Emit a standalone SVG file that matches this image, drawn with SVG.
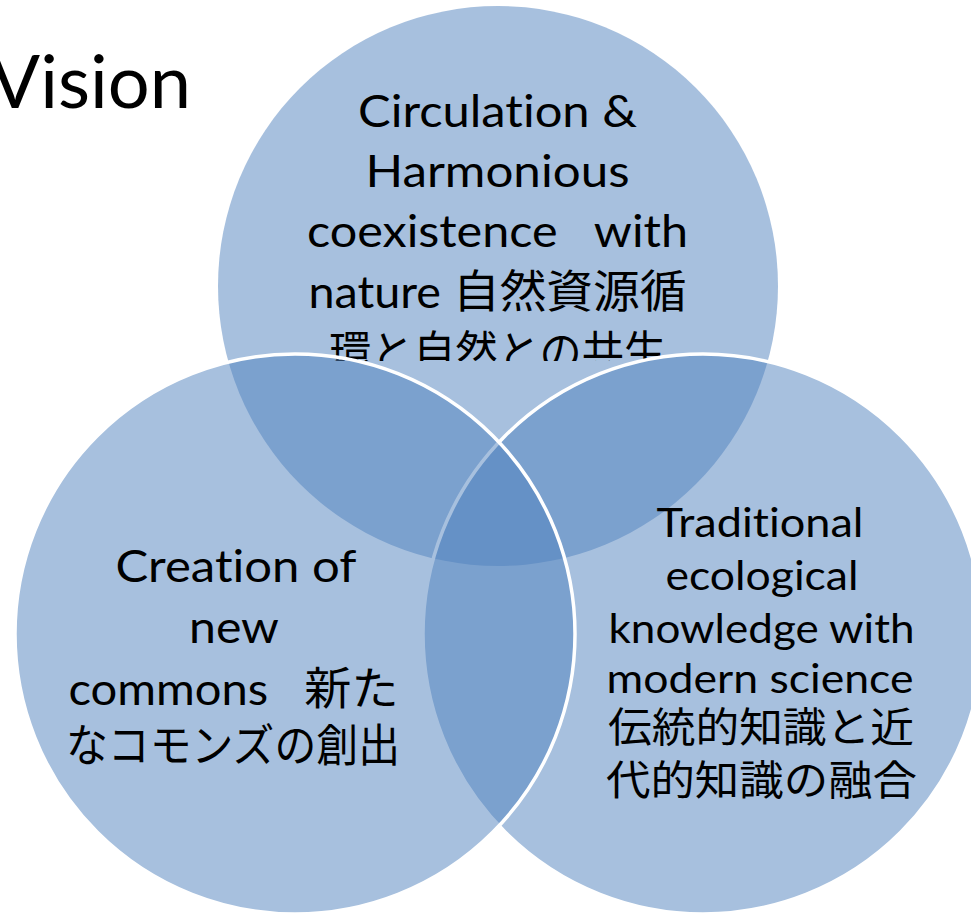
<svg xmlns="http://www.w3.org/2000/svg" width="971" height="916" viewBox="0 0 971 916">
  <style>
    .c { fill: #4F81BD; fill-opacity: 0.5; }
    .s { stroke: #FFFFFF; stroke-width: 3.5; }
    .t { font-family: Lato, "Noto Sans CJK JP", sans-serif; fill: #000000; text-anchor: middle; font-variant-ligatures: none; }
    .top { font-size: 45px; }
    .lft { font-size: 45px; }
    .rgt { font-size: 41px; }
    .title { font-family: Lato, sans-serif; font-size: 74px; fill: #000000; }
  </style>
  <defs>
    <clipPath id="topclip">
      <rect x="200" y="0" width="600" height="361"/>
    </clipPath>
  </defs>
  <rect x="0" y="0" width="971" height="916" fill="#FFFFFF"/>

  <g id="title">
    <text class="title" x="191" y="108" text-anchor="end">Vision</text>
  </g>

  <g id="node-top">
    <circle class="c" cx="498" cy="286" r="280"/>
    <g clip-path="url(#topclip)">
      <text class="t top" x="497.5" y="127" textLength="279" lengthAdjust="spacingAndGlyphs">Circulation &amp;</text>
      <text class="t top" x="497.5" y="187" textLength="264" lengthAdjust="spacingAndGlyphs">Harmonious</text>
      <text class="t top" x="497.5" y="247" textLength="381" lengthAdjust="spacingAndGlyphs" xml:space="preserve">coexistence   with</text>
      <text class="t top" x="497.5" y="308" textLength="378" lengthAdjust="spacingAndGlyphs">nature 自然資源循</text>
      <text class="t top" x="497.5" y="369" textLength="337" lengthAdjust="spacingAndGlyphs">環と自然との共生</text>
    </g>
  </g>

  <g id="node-right">
    <circle class="c s" cx="703" cy="634" r="280"/>
    <text class="t rgt" x="760" y="537" textLength="207" lengthAdjust="spacingAndGlyphs">Traditional</text>
    <text class="t rgt" x="762" y="590" textLength="193" lengthAdjust="spacingAndGlyphs">ecological</text>
    <text class="t rgt" x="761.5" y="643" textLength="306" lengthAdjust="spacingAndGlyphs">knowledge with</text>
    <text class="t rgt" x="760" y="693" textLength="307" lengthAdjust="spacingAndGlyphs">modern science</text>
    <text class="t rgt" x="761" y="742" textLength="306" lengthAdjust="spacingAndGlyphs">伝統的知識と近</text>
    <text class="t rgt" x="761.5" y="795" textLength="311" lengthAdjust="spacingAndGlyphs">代的知識の融合</text>
  </g>

  <g id="node-left">
    <circle class="c s" cx="295" cy="634" r="280"/>
    <text class="t lft" x="236" y="582" textLength="241" lengthAdjust="spacingAndGlyphs">Creation of</text>
    <text class="t lft" x="234" y="643" textLength="90" lengthAdjust="spacingAndGlyphs">new</text>
    <text class="t lft" x="233.5" y="705" textLength="330" lengthAdjust="spacingAndGlyphs" xml:space="preserve">commons   新た</text>
    <text class="t lft" x="233" y="762" textLength="334" lengthAdjust="spacingAndGlyphs">なコモンズの創出</text>
  </g>
</svg>
